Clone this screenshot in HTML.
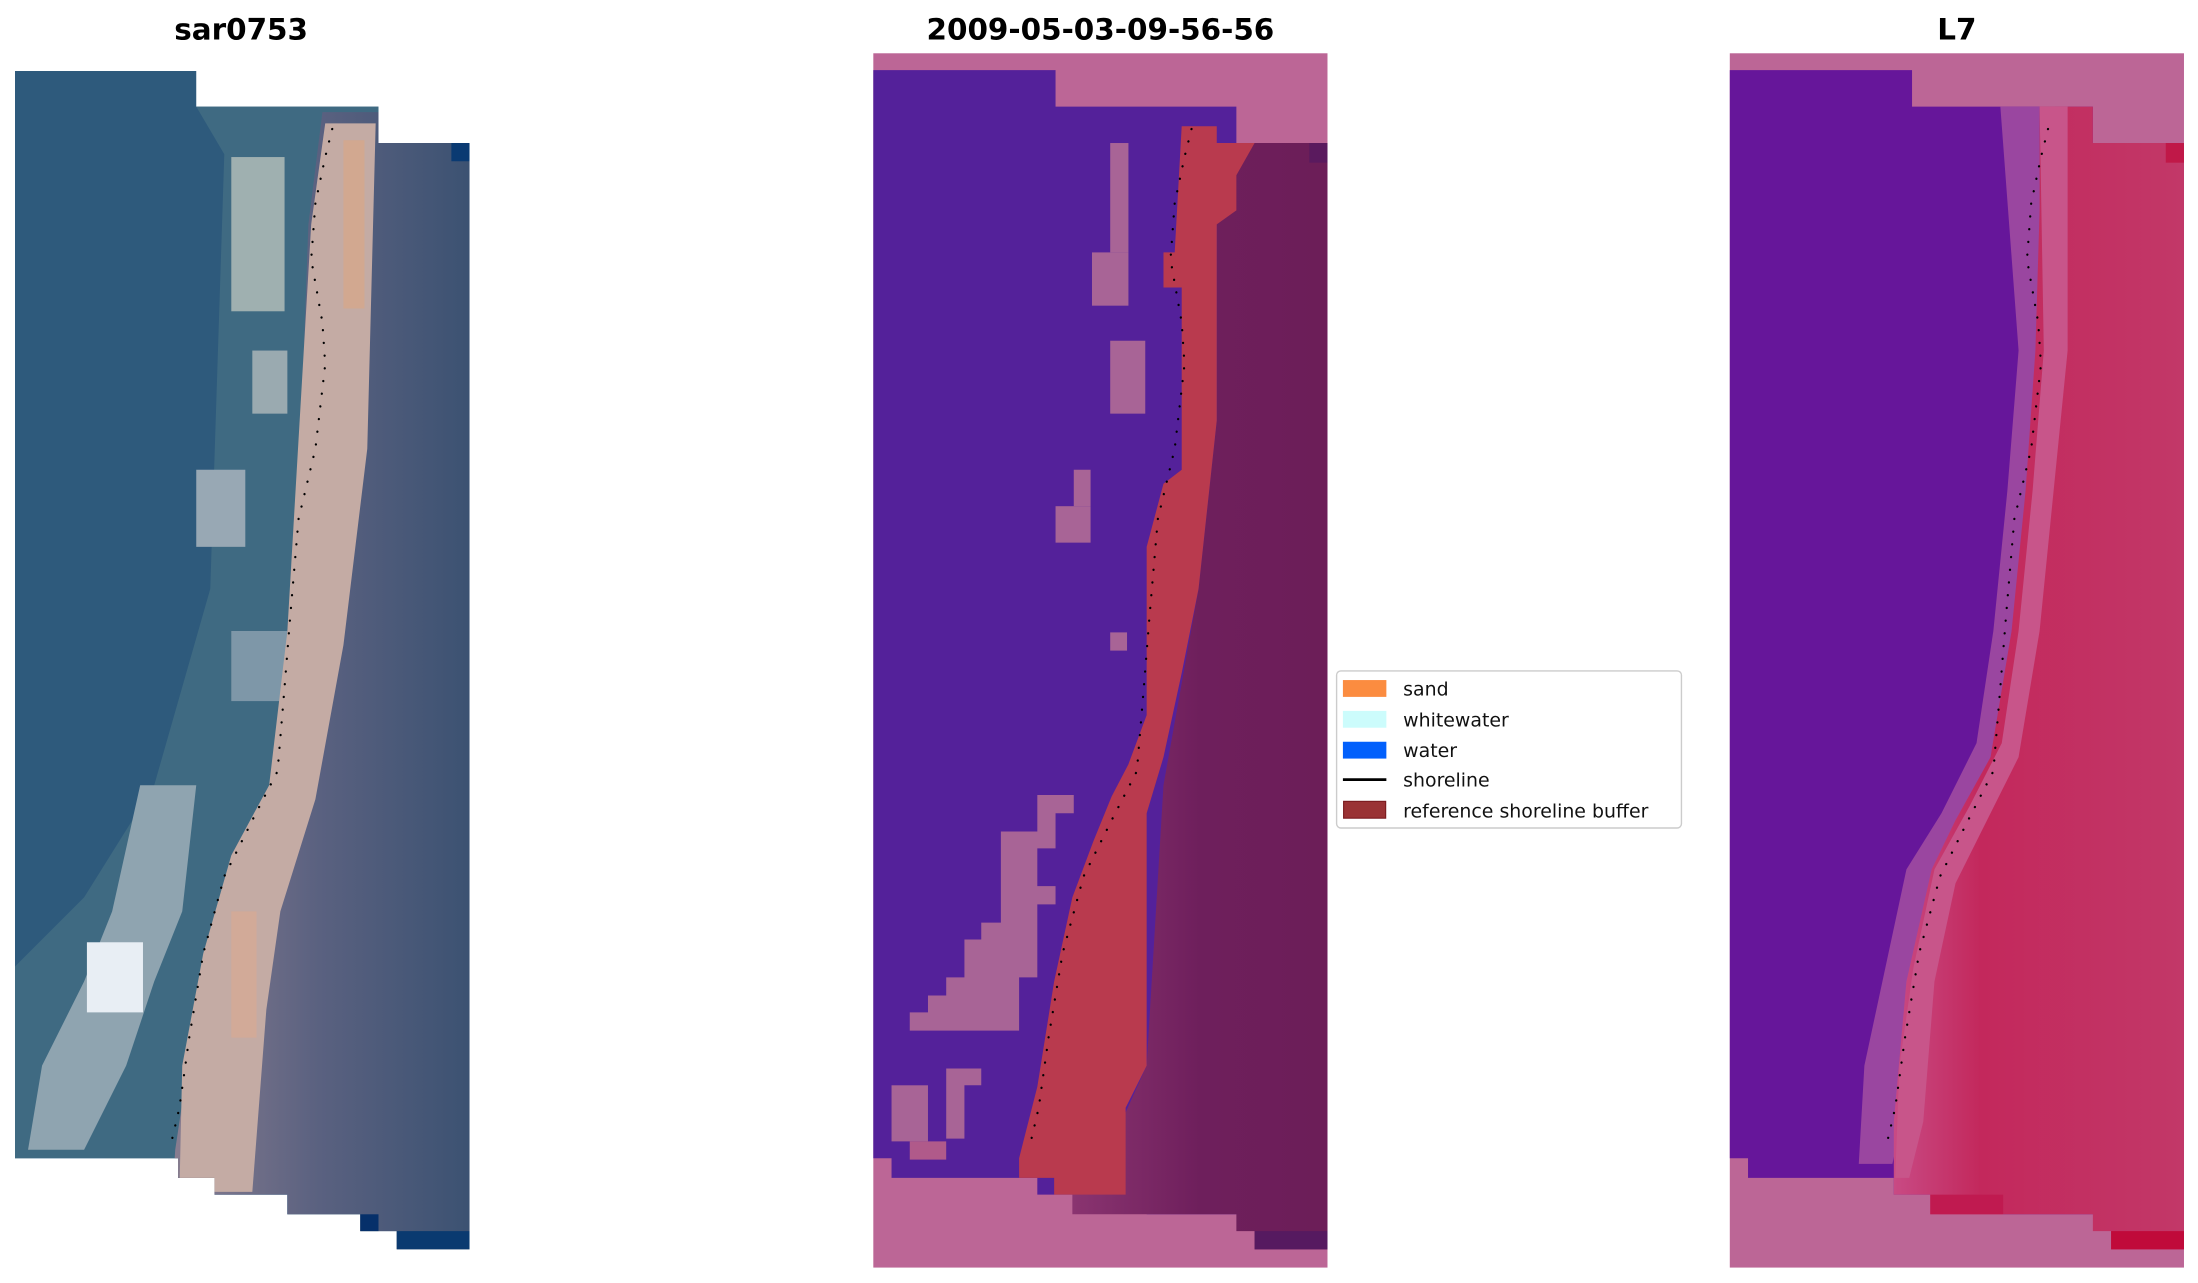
<!DOCTYPE html>
<html><head><meta charset="utf-8"><style>
html,body{margin:0;padding:0;background:#fff;}
svg{display:block;}
text{font-family:"DejaVu Sans","Liberation Sans",sans-serif;}
</style></head><body>
<svg width="2198" height="1283" viewBox="0 0 1568 915" preserveAspectRatio="none" xmlns="http://www.w3.org/2000/svg">
<defs>
<clipPath id="cl"><polygon points="10.7,50.6 140,50.6 140,76 270,76 270,102 335,102 335,891 283,891 283,878 257,878 257,866 205,866 205,852 153,852 153,840 127,840 127,826 10.7,826"/></clipPath>
<linearGradient id="dk" x1="0" x2="1" y1="0" y2="0"><stop offset="0" stop-color="#8a3470"/><stop offset="0.5" stop-color="#6e1f5c"/><stop offset="1" stop-color="#6c1e58"/></linearGradient>
<linearGradient id="rr" x1="0" x2="1" y1="0" y2="0"><stop offset="0" stop-color="#c84a84"/><stop offset="0.3" stop-color="#c3285c"/><stop offset="1" stop-color="#c23868"/></linearGradient>
<linearGradient id="sl" x1="0" x2="1" y1="0" y2="0"><stop offset="0" stop-color="#8a7e90"/><stop offset="0.5" stop-color="#5a6180"/><stop offset="1" stop-color="#3c5272"/></linearGradient>
</defs>
<!-- titles -->
<text x="172" y="28" font-size="21" font-weight="bold" text-anchor="middle">sar0753</text>
<text x="785" y="28" font-size="21" font-weight="bold" text-anchor="middle">2009-05-03-09-56-56</text>
<text x="1396" y="28" font-size="21" font-weight="bold" text-anchor="middle">L7</text>

<!-- LEFT PANEL -->
<g clip-path="url(#cl)">
<rect x="0" y="40" width="340" height="860" fill="#2e5a7c"/>
<polygon points="140,76 270,76 270,900 0,900 0,700 60,640 110,560 150,420 160,110" fill="#3f6a82"/>
<rect x="165" y="112" width="38" height="110" fill="#9fb0b0"/>
<rect x="180" y="250" width="25" height="45" fill="#9aaab0"/>
<rect x="140" y="335" width="35" height="55" fill="#98a8b4"/>
<rect x="165" y="450" width="40" height="50" fill="#7e97a8"/>
<polygon points="100,560 140,560 130,650 110,700 90,760 60,820 20,820 30,760 60,700 80,650" fill="#8fa4b0"/>
<rect x="62" y="672" width="40" height="50" fill="#e8eef4"/>
<polygon points="230,80 335,80 335,900 120,900 125,820 140,720 160,640 195,560 205,450 215,300 220,160" fill="url(#sl)"/>
<polygon points="232,88 268,88 262,320 245,460 225,570 200,650 190,720 180,850 128,850 130,760 145,680 165,610 192,560 205,450 212,330 222,160" fill="#c4aba4"/>
<rect x="245" y="100" width="15" height="120" fill="#d2a890"/>
<rect x="165" y="650" width="18" height="90" fill="#d2aa98"/>
<rect x="23" y="826" width="52" height="14" fill="#5a90c0"/>
<rect x="153" y="852" width="52" height="14" fill="#3a6a9a"/>
<rect x="283" y="878" width="52" height="13" fill="#0a3a70"/>
<rect x="257" y="866" width="13" height="12" fill="#06306a"/>
<rect x="322" y="102" width="13" height="13" fill="#0a3a72"/>
</g>

<!-- MIDDLE PANEL -->
<rect x="623" y="38" width="324" height="866" fill="#bc6696"/>
<polygon points="623,50 753,50 753,76 882,76 882,102 947,102 947,878 895,878 895,866 818,866 818,852 740,852 740,840 636,840 636,826 623,826" fill="#54219a"/>
<polygon points="868,102 947,102 947,891 895,891 895,878 882,878 882,866 765,866 765,852 800,840 800,800 818,760 830,560 855,420 868,300" fill="url(#dk)"/>
<polygon points="843,90 868,90 868,102 895,102 882,125 882,150 868,160 868,300 855,420 843,480 830,540 818,580 818,760 803,790 803,852 752,852 752,840 727,840 727,826 740,775 752,700 765,640 780,600 793,568 805,545 818,510 818,390 830,345 843,335 843,205 830,205 830,180 838,180" fill="#b93a4e"/>
<g fill="#a86496">
<rect x="792" y="102" width="13" height="78"/><rect x="779" y="180" width="26" height="38"/>
<rect x="792" y="243" width="25" height="52"/>
<rect x="766" y="335" width="12" height="26"/><rect x="753" y="361" width="25" height="26"/>
<rect x="792" y="451" width="12" height="13"/>
<polygon points="740,567 766,567 766,580 753,580 753,605 740,605 740,632 753,632 753,645 740,645 740,697 727,697 727,735 714,735 714,762 700,762 700,774 688,774 688,812 675,812 675,762 714,762 714,735 649,735 649,722 662,722 662,710 675,710 675,697 688,697 688,670 700,670 700,658 714,658 714,593 740,593"/>
<rect x="636" y="774" width="26" height="40"/><rect x="649" y="814" width="26" height="13" fill="#b05a8a"/>
</g>
<rect x="934" y="102" width="13" height="14" fill="#5a1a5e"/>
<rect x="895" y="878" width="52" height="13" fill="#561a60"/>

<!-- RIGHT PANEL -->
<rect x="1234" y="38" width="324" height="866" fill="#bc6696"/>
<polygon points="1234,50 1364,50 1364,76 1493,76 1493,102 1558,102 1558,878 1506,878 1506,866 1429,866 1429,852 1351,852 1351,840 1247,840 1247,826 1234,826" fill="#66169a"/>
<polygon points="1427,76 1466,76 1466,250 1452,350 1440,450 1430,530 1405,580 1385,620 1370,690 1365,760 1350,830 1326,830 1330,760 1345,690 1360,620 1385,580 1410,530 1422,450 1432,350 1440,250" fill="#9a46a0"/>
<polygon points="1455,76 1493,76 1493,102 1558,102 1558,891 1506,891 1506,878 1493,878 1493,866 1377,866 1377,852 1351,852 1351,800 1360,700 1378,620 1395,585 1420,540 1435,450 1445,350 1452,250 1455,150" fill="url(#rr)"/>
<polygon points="1455,76 1475,76 1475,250 1465,350 1455,450 1440,540 1415,590 1395,630 1380,700 1372,800 1362,840 1352,840 1355,760 1365,690 1380,620 1405,575 1428,530 1440,450 1450,350 1458,250" fill="#c8558a"/>
<rect x="1545" y="102" width="13" height="14" fill="#c01848"/>
<rect x="1506" y="878" width="52" height="13" fill="#c00a3a"/>
<rect x="1377" y="852" width="52" height="14" fill="#c01a50"/>

<!-- shorelines -->
<g id="sh" fill="none" stroke="#000" stroke-width="1.6" stroke-dasharray="0.1 9" stroke-linecap="round">
<polyline points="237,92 232,112 225,145 222,185 230,230 232,260 225,320 213,370 207,440 203,490 198,550 180,585 160,625 145,680 135,740 128,790 121,820"/>
</g>
<use href="#sh" x="613" y="0"/>
<use href="#sh" x="1224" y="0"/>

<!-- legend -->
<rect x="953.5" y="478.5" width="246" height="112" rx="3" fill="#fff" stroke="#ccc" stroke-width="1"/>
<rect x="958" y="485" width="31" height="12" fill="#fb8c40"/>
<rect x="958" y="507" width="31" height="12" fill="#ccfcfc"/>
<rect x="958" y="529" width="31" height="12" fill="#0260fc"/>
<line x1="958" y1="556" x2="989" y2="556" stroke="#000" stroke-width="2"/>
<rect x="958.5" y="571.5" width="30" height="12" fill="#9a3234" stroke="#7a1a1e" stroke-width="0.8"/>
<g font-size="13.5" fill="#111">
<text x="1001" y="496">sand</text>
<text x="1001" y="518">whitewater</text>
<text x="1001" y="540">water</text>
<text x="1001" y="561">shoreline</text>
<text x="1001" y="583">reference shoreline buffer</text>
</g>
</svg>
</body></html>
